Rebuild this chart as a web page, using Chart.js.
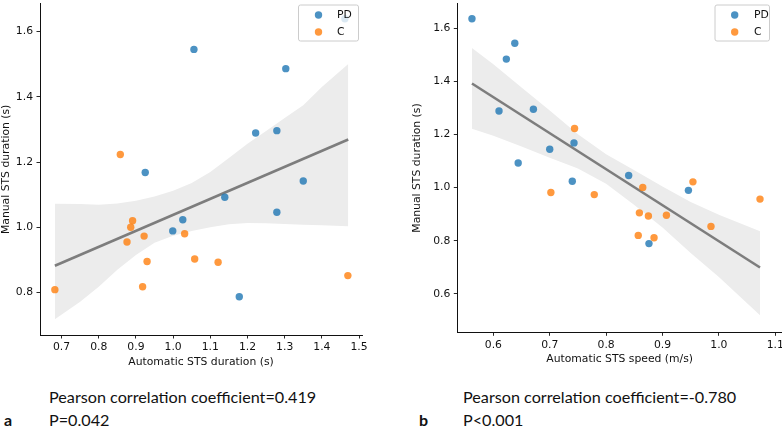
<!DOCTYPE html>
<html><head><meta charset="utf-8">
<script src="https://cdn.jsdelivr.net/npm/chart.js@4/dist/chart.umd.min.js"></script>
<style>
html,body{margin:0;padding:0;width:782px;height:433px;overflow:hidden;background:#fff;}
body{position:relative;}
canvas{position:absolute;top:0;}
#cA{left:0;}
#cB{left:411px;}
.cap{position:absolute;font-family:Lato,"Open Sans",sans-serif;font-size:16.2px;line-height:20px;color:#111;white-space:nowrap;}
.lab{position:absolute;font-family:Lato,"Open Sans",sans-serif;font-weight:bold;font-size:16px;line-height:20px;color:#111;}
</style></head><body>
<canvas id="cA" width="390" height="370"></canvas>
<canvas id="cB" width="400" height="370"></canvas>
<div class="cap" style="left:49px;top:387px">Pearson correlation coefficient=0.419</div>
<div class="lab" style="left:4px;top:410px">a</div>
<div class="cap" style="left:49px;top:410px">P=0.042</div>
<div class="cap" style="left:463px;top:387px">Pearson correlation coefficient=-0.780</div>
<div class="lab" style="left:419px;top:410px">b</div>
<div class="cap" style="left:463px;top:410px">P&lt;0.001</div>
<script>
// ---------- Panel a: Automatic STS duration vs Manual STS duration ----------
const groups = ['PD', 'C'];
const aPD_x = [1.056, 1.303, 1.222, 1.279, 0.925, 1.350, 1.139, 1.279, 1.026, 0.999, 1.178, 1.462];
const aPD_y = [1.545, 1.486, 1.289, 1.296, 1.168, 1.142, 1.092, 1.046, 1.023, 0.989, 0.787, 1.639];
const aC_x  = [0.858, 0.891, 0.886, 0.922, 0.876, 1.031, 0.930, 1.058, 1.121, 0.918, 0.682, 1.470];
const aC_y  = [1.223, 1.020, 1.000, 0.973, 0.955, 0.980, 0.895, 0.903, 0.893, 0.818, 0.809, 0.852];
const aFit_x = [0.682, 1.471];
const aFit_y = [0.882, 1.269];
const aBand_x     = [0.682, 0.75, 0.8, 0.85, 0.9, 0.95, 1.0, 1.05, 1.1, 1.15, 1.2, 1.25, 1.3, 1.35, 1.4, 1.471];
const aBand_upper = [1.072, 1.071, 1.069, 1.073, 1.081, 1.094, 1.112, 1.136, 1.169, 1.212, 1.256, 1.295, 1.335, 1.374, 1.430, 1.500];
const aBand_lower = [0.718, 0.772, 0.818, 0.870, 0.915, 0.953, 0.974, 0.989, 1.000, 1.009, 1.013, 1.012, 1.010, 1.008, 1.006, 1.003];
const aXTicks = [0.7, 0.8, 0.9, 1.0, 1.1, 1.2, 1.3, 1.4, 1.5];
const aYTicks = [0.8, 1.0, 1.2, 1.4, 1.6];

// ---------- Panel b: Automatic STS speed vs Manual STS duration ----------
const bPD_x = [0.562, 0.623, 0.638, 0.610, 0.671, 0.644, 0.700, 0.743, 0.740, 0.840, 0.946, 0.876];
const bPD_y = [1.637, 1.485, 1.545, 1.289, 1.296, 1.093, 1.145, 1.169, 1.024, 1.046, 0.990, 0.789];
const bC_x  = [0.744, 0.702, 0.779, 0.865, 0.954, 1.073, 0.859, 0.875, 0.907, 0.986, 0.857, 0.885];
const bC_y  = [1.223, 0.982, 0.974, 1.001, 1.022, 0.957, 0.905, 0.893, 0.896, 0.854, 0.820, 0.811];
const bFit_x = [0.562, 1.073];
const bFit_y = [1.393, 0.699];
const bBand_x     = [0.562, 0.6, 0.65, 0.7, 0.75, 0.8, 0.85, 0.9, 0.95, 1.0, 1.073];
const bBand_upper = [1.527, 1.466, 1.378, 1.291, 1.202, 1.126, 1.066, 1.004, 0.946, 0.898, 0.836];
const bBand_lower = [1.222, 1.196, 1.155, 1.113, 1.072, 1.015, 0.935, 0.850, 0.754, 0.663, 0.519];
const bXTicks = [0.6, 0.7, 0.8, 0.9, 1.0, 1.1];
const bYTicks = [0.6, 0.8, 1.0, 1.2, 1.4, 1.6];

const COL_PD = 'rgba(31,119,180,0.8)';
const COL_C  = 'rgba(255,127,14,0.8)';
const FONT = {family: "'DejaVu Sans', sans-serif", size: 10.8};

const zip = (xs, ys) => xs.map((x, i) => ({x: x, y: ys[i]}));

const boxLegend = {
  id: 'boxLegend',
  afterDatasetsDraw(chart, args, o) {
    const ctx = chart.ctx;
    ctx.save();
    const r = 2;
    ctx.beginPath();
    ctx.moveTo(o.x + r, o.y);
    ctx.arcTo(o.x + o.w, o.y, o.x + o.w, o.y + o.h, r);
    ctx.arcTo(o.x + o.w, o.y + o.h, o.x, o.y + o.h, r);
    ctx.arcTo(o.x, o.y + o.h, o.x, o.y, r);
    ctx.arcTo(o.x, o.y, o.x + o.w, o.y, r);
    ctx.closePath();
    ctx.fillStyle = 'rgba(255,255,255,0.8)';
    ctx.fill();
    ctx.strokeStyle = '#cccccc';
    ctx.lineWidth = 1;
    ctx.stroke();
    const items = chart.data.datasets.filter(d => d.inLegend);
    items.forEach((d, i) => {
      const cy = o.y + 10 + i * 17;
      ctx.beginPath();
      ctx.arc(o.x + o.mx, cy, 3.7, 0, Math.PI * 2);
      ctx.fillStyle = d.backgroundColor;
      ctx.fill();
      ctx.fillStyle = '#111';
      ctx.font = FONT.size + "px 'DejaVu Sans'";
      ctx.textBaseline = 'middle';
      ctx.textAlign = 'left';
      ctx.fillText(d.label, o.x + o.tx, cy + 0.5);
    });
    ctx.restore();
  }
};

function makeChart(id, d) {
  return new Chart(document.getElementById(id), {
    type: 'scatter',
    data: {
      datasets: [
        {label: groups[1], data: zip(d.cx, d.cy), backgroundColor: COL_C, pointRadius: 3.7, pointBorderWidth: 0, pointHoverRadius: 3.7, order: 0, inLegend: false},
        {label: groups[0], data: zip(d.px, d.py), backgroundColor: COL_PD, pointRadius: 3.7, pointBorderWidth: 0, pointHoverRadius: 3.7, order: 1, inLegend: false},
        {type: 'line', label: 'fit', data: zip(d.fx, d.fy), borderColor: '#7d7d7d', borderWidth: 2.6, pointRadius: 0, fill: false, order: 2},
        {type: 'line', label: 'ciU', data: zip(d.bx, d.bu), borderWidth: 0, borderColor: 'rgba(0,0,0,0)', pointRadius: 0, fill: false, order: 3},
        {type: 'line', label: 'ciL', data: zip(d.bx, d.bl), borderWidth: 0, borderColor: 'rgba(0,0,0,0)', pointRadius: 0, fill: '-1', backgroundColor: '#ececec', order: 4}
      ]
    },
    options: {
      responsive: false,
      animation: false,
      events: [],
      layout: {padding: {left: 0, top: 0, right: d.padR, bottom: 0}},
      plugins: {
        legend: {display: false},
        tooltip: {enabled: false},
        boxLegend: d.legend
      },
      scales: {
        x: {
          type: 'linear', min: d.xmin, max: d.xmax,
          afterBuildTicks: s => { s.ticks = d.xt.map(v => ({value: v})); },
          afterFit: s => { s.height = d.xh; s.paddingLeft = 0; s.paddingRight = 0; },
          ticks: {font: FONT, color: '#111', padding: 2.5, maxRotation: 0, autoSkip: false, callback: v => v.toFixed(1)},
          grid: {display: true, drawOnChartArea: false, drawTicks: true, tickLength: 3.5, color: '#111', lineWidth: 0.9},
          border: {display: true, color: '#111', width: 1},
          title: {display: true, text: d.xtitle, font: FONT, color: '#111', padding: {top: 0, bottom: d.xtPad}}
        },
        y: {
          type: 'linear', min: d.ymin, max: d.ymax,
          afterBuildTicks: s => { s.ticks = d.yt.map(v => ({value: v})); },
          afterFit: s => { s.width = d.yw; s.paddingTop = 0; s.paddingBottom = 0; },
          ticks: {font: FONT, color: '#111', padding: 3.5, autoSkip: false, callback: v => v.toFixed(1)},
          grid: {display: true, drawOnChartArea: false, drawTicks: true, tickLength: 3.5, color: '#111', lineWidth: 0.9},
          border: {display: true, color: '#111', width: 1},
          title: {display: true, text: 'Manual STS duration (s)', font: FONT, color: '#111', padding: {top: 0, bottom: 0}}
        }
      }
    },
    plugins: [boxLegend]
  });
}

function setLegend(ch) {
  const ds = ch.data.datasets;
  const pd = ds[1], c = ds[0];
  ds.forEach(x => x.inLegend = false);
  ch.data.datasets = [pd, c].concat(ds.filter(x => x !== pd && x !== c));
  pd.inLegend = true; c.inLegend = true;
  ch.update('none');
}

const chartA = makeChart('cA', {
  px: aPD_x, py: aPD_y, cx: aC_x, cy: aC_y, fx: aFit_x, fy: aFit_y,
  bx: aBand_x, bu: aBand_upper, bl: aBand_lower, xt: aXTicks, yt: aYTicks,
  xmin: 0.642, xmax: 1.508, ymin: 0.67, ymax: 1.685,
  padR: 28, xh: 35, yw: 40, xtPad: 1.3,
  xtitle: 'Automatic STS duration (s)',
  legend: {x: 298.5, y: 5, w: 60, h: 36, mx: 20, tx: 38.5}
});
setLegend(chartA);

const chartB = makeChart('cB', {
  px: bPD_x, py: bPD_y, cx: bC_x, cy: bC_y, fx: bFit_x, fy: bFit_y,
  bx: bBand_x, bu: bBand_upper, bl: bBand_lower, xt: bXTicks, yt: bYTicks,
  xmin: 0.536, xmax: 1.112, ymin: 0.4545, ymax: 1.694,
  padR: 29, xh: 37.7, yw: 46.3, xtPad: 4.7,
  xtitle: 'Automatic STS speed (m/s)',
  legend: {x: 304, y: 5, w: 54.5, h: 36, mx: 19.7, tx: 39}
});
setLegend(chartB);
</script>
</body></html>
